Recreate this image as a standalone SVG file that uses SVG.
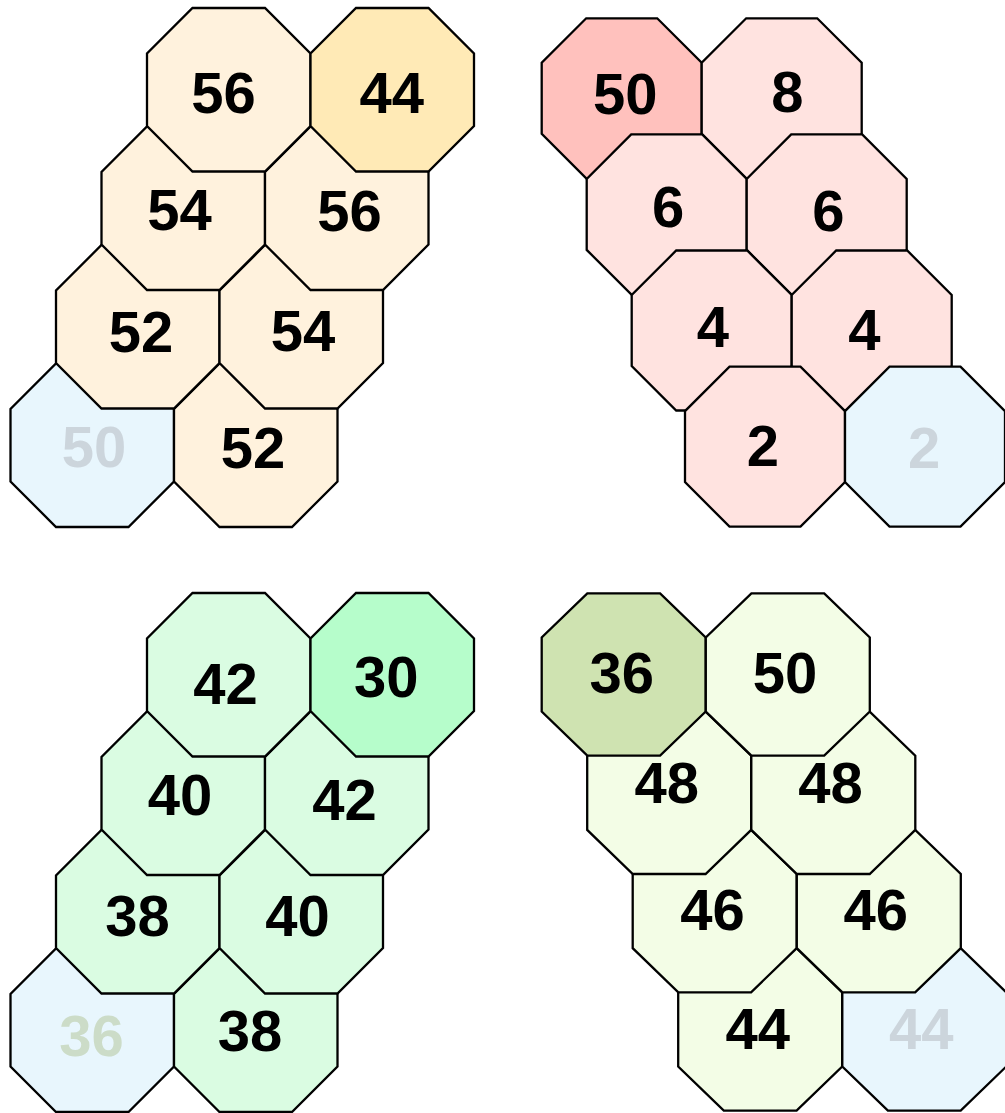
<svg xmlns="http://www.w3.org/2000/svg" xmlns:xlink="http://www.w3.org/1999/xlink" width="1005" height="1113" viewBox="0 0 1005 1113">
<style>
.o{stroke:#000;stroke-width:2.3;stroke-linejoin:miter}
.t{font-family:"Liberation Sans",Arial,sans-serif;font-weight:bold;font-size:58px;text-anchor:middle;fill:#000}
.g{fill:#ccd5dc}
.gg{fill:#ccdcc8}
.b{fill:#e8f6fd}
.a{fill:#fff2dd}.ah{fill:#ffeab6}
.r{fill:#ffe3e0}.rh{fill:#ffc1bd}
.n{fill:#dafce2}.nh{fill:#b6fdcb}
.l{fill:#f3fde6}.lh{fill:#cfe3b1}
</style>
<defs>
<polygon id="o1" class="o" points="45.5,0 118,0 163.5,45.5 163.5,118 118,163.5 45.5,163.5 0,118 0,45.5"/>
<polygon id="o2" class="o" points="44.5,0 115.5,0 160,44.5 160,115.5 115.5,160 44.5,160 0,115.5 0,44.5"/>
<polygon id="o4" class="o" points="45.6,0 118.4,0 164,44.1 164,118.3 118.4,162.4 45.6,162.4 0,118.3 0,44.1"/>
</defs>
<g id="q1">
<g id="q1r3c0"><use xlink:href="#o1" x="10.5" y="363.5" class="b"/><text class="t g" x="94" y="467">50</text></g>
<g id="q1r3c1"><use xlink:href="#o1" x="174" y="363.5" class="a"/><text class="t" x="253" y="468">52</text></g>
<g id="q1r2c0"><use xlink:href="#o1" x="56" y="245" class="a"/><text class="t" x="141" y="352">52</text></g>
<g id="q1r2c1"><use xlink:href="#o1" x="219.5" y="245" class="a"/><text class="t" x="303" y="351">54</text></g>
<g id="q1r1c0"><use xlink:href="#o1" x="101.5" y="126.5" class="a"/><text class="t" x="179.5" y="230">54</text></g>
<g id="q1r1c1"><use xlink:href="#o1" x="265" y="126.5" class="a"/><text class="t" x="349.5" y="231">56</text></g>
<g id="q1r0c0"><use xlink:href="#o1" x="147" y="8" class="a"/><text class="t" x="223.5" y="112.5">56</text></g>
<g id="q1r0c1"><use xlink:href="#o1" x="310.5" y="8" class="ah"/><text class="t" x="391.8" y="112.5">44</text></g>
</g>
<g id="q2">
<g id="q2r0c0"><use xlink:href="#o2" x="541.7" y="18.3" class="rh"/><text class="t" x="625.3" y="114">50</text></g>
<g id="q2r0c1"><use xlink:href="#o2" x="701.7" y="18.3" class="r"/><text class="t" x="787.5" y="111.5">8</text></g>
<g id="q2r1c0"><use xlink:href="#o2" x="586.7" y="134.4" class="r"/><text class="t" x="668.2" y="227">6</text></g>
<g id="q2r1c1"><use xlink:href="#o2" x="746.7" y="134.4" class="r"/><text class="t" x="828.5" y="230.5">6</text></g>
<g id="q2r2c0"><use xlink:href="#o2" x="631.7" y="250.5" class="r"/><text class="t" x="712.8" y="346.5">4</text></g>
<g id="q2r2c1"><use xlink:href="#o2" x="791.7" y="250.5" class="r"/><text class="t" x="864.5" y="350">4</text></g>
<g id="q2r3c0"><use xlink:href="#o2" x="685" y="366.6" class="r"/><text class="t" x="763" y="465.5">2</text></g>
<g id="q2r3c1"><use xlink:href="#o2" x="845" y="366.6" class="b"/><text class="t g" x="924.2" y="468">2</text></g>
</g>
<g id="q3">
<g id="q3r3c0"><use xlink:href="#o1" x="10.5" y="948.5" class="b"/><text class="t gg" x="91.5" y="1056">36</text></g>
<g id="q3r3c1"><use xlink:href="#o1" x="174" y="948.5" class="n"/><text class="t" x="250" y="1051">38</text></g>
<g id="q3r2c0"><use xlink:href="#o1" x="56" y="830" class="n"/><text class="t" x="137.5" y="936.3">38</text></g>
<g id="q3r2c1"><use xlink:href="#o1" x="219.5" y="830" class="n"/><text class="t" x="297.5" y="936.3">40</text></g>
<g id="q3r1c0"><use xlink:href="#o1" x="101.5" y="711.5" class="n"/><text class="t" x="180" y="814.6">40</text></g>
<g id="q3r1c1"><use xlink:href="#o1" x="265" y="711.5" class="n"/><text class="t" x="344.5" y="819.7">42</text></g>
<g id="q3r0c0"><use xlink:href="#o1" x="147" y="593" class="n"/><text class="t" x="225.5" y="704">42</text></g>
<g id="q3r0c1"><use xlink:href="#o1" x="310.5" y="593" class="nh"/><text class="t" x="386.3" y="696.6">30</text></g>
</g>
<g id="q4">
<g id="q4r3c0"><use xlink:href="#o4" x="678.2" y="948.2" class="l"/><text class="t" x="757.8" y="1048.5">44</text></g>
<g id="q4r3c1"><use xlink:href="#o4" x="842.3" y="948.2" class="b"/><text class="t g" x="921.2" y="1048.5">44</text></g>
<g id="q4r2c0"><use xlink:href="#o4" x="632.7" y="829.9" class="l"/><text class="t" x="712.5" y="930.2">46</text></g>
<g id="q4r2c1"><use xlink:href="#o4" x="796.8" y="829.9" class="l"/><text class="t" x="875.8" y="930.2">46</text></g>
<g id="q4r1c0"><use xlink:href="#o4" x="587.2" y="711.6" class="l"/><text class="t" x="666.8" y="803.4">48</text></g>
<g id="q4r1c1"><use xlink:href="#o4" x="751.3" y="711.6" class="l"/><text class="t" x="830.5" y="803.4">48</text></g>
<g id="q4r0c0"><use xlink:href="#o4" x="541.7" y="593.3" class="lh"/><text class="t" x="621.7" y="693.2">36</text></g>
<g id="q4r0c1"><use xlink:href="#o4" x="705.8" y="593.3" class="l"/><text class="t" x="785" y="693.2">50</text></g>
</g>
</svg>
